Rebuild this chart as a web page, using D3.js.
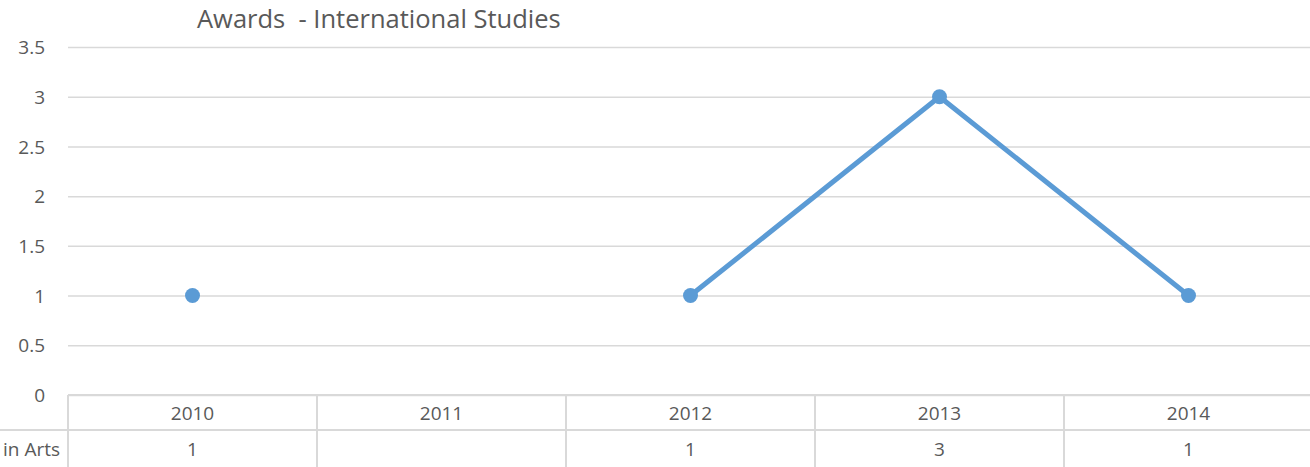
<!DOCTYPE html>
<html><head><meta charset="utf-8">
<script src="https://cdn.jsdelivr.net/npm/d3@7"></script>
<style>body{margin:0;background:#fff;overflow:hidden}svg{display:block}text{white-space:pre}</style>
</head><body>
<svg id="c" width="1310" height="467"></svg>
<script>
const categories = ["2010","2011","2012","2013","2014"];
const values = [1, null, 1, 3, 1];
const yTicks = [0, 0.5, 1, 1.5, 2, 2.5, 3, 3.5];
const seriesName = "in Arts";
const title = "Awards  - International Studies";

const svg = d3.select("#c");
const font = "'Open Sans', 'Noto Sans', sans-serif";
const textCol = "#595959", gridCol = "#D9D9D9", lineCol = "#5B9BD5";

const x = d3.scaleBand().domain(categories).range([68, 1313]);
const y = d3.scaleLinear().domain([0, 3.5]).range([395, 47]);

// gridlines + y tick labels
const yAxis = d3.axisLeft(y).tickValues(yTicks).tickSize(0).tickPadding(0).tickFormat(d3.format("~g"));
const gy = svg.append("g").attr("transform", "translate(68,0)").call(yAxis);
gy.select(".domain").remove();
gy.selectAll("text").attr("x", -23).attr("dy", "0.35em")
  .attr("fill", textCol).style("font-family", font).style("font-size", "19px");
gy.selectAll(".tick").append("line").attr("x1", 0).attr("x2", 1245)
  .attr("stroke", gridCol).attr("stroke-width", 1.5);

// title
svg.append("text").attr("x", 197).attr("y", 28).text(title)
  .attr("fill", textCol).style("font-family", font).style("font-size", "25.5px");

// data table
const tbl = svg.append("g");
tbl.append("line").attr("x1", 68).attr("x2", 1313).attr("y1", y(0)).attr("y2", y(0))
  .attr("stroke", gridCol).attr("stroke-width", 2);
tbl.append("line").attr("x1", 0).attr("x2", 1313).attr("y1", 430).attr("y2", 430)
  .attr("stroke", gridCol).attr("stroke-width", 2);
tbl.selectAll(".vsep").data(categories).enter().append("line")
  .attr("x1", d => x(d)).attr("x2", d => x(d)).attr("y1", y(0)).attr("y2", 467)
  .attr("stroke", gridCol).attr("stroke-width", 2);
tbl.selectAll(".cat").data(categories).enter().append("text")
  .attr("x", d => x(d) + x.bandwidth()/2).attr("y", 420).attr("text-anchor", "middle")
  .text(d => d).attr("fill", textCol).style("font-family", font).style("font-size", "19px");
tbl.selectAll(".val").data(categories).enter().append("text")
  .attr("x", d => x(d) + x.bandwidth()/2).attr("y", 456).attr("text-anchor", "middle")
  .text((d,i) => values[i] == null ? "" : values[i])
  .attr("fill", textCol).style("font-family", font).style("font-size", "19px");
tbl.append("text").attr("x", 60).attr("y", 456).attr("text-anchor", "end").text(seriesName)
  .attr("fill", textCol).style("font-family", font).style("font-size", "19px");

// line
const pts = categories.map((c, i) => ({c, v: values[i]}));
const line = d3.line().defined(d => d.v != null)
  .x(d => x(d.c) + x.bandwidth()/2).y(d => y(d.v));
svg.append("path").datum(pts).attr("d", line).attr("fill", "none")
  .attr("stroke", lineCol).attr("stroke-width", 5).attr("stroke-linejoin", "round").attr("stroke-linecap", "round");
svg.selectAll(".pt").data(pts.filter(d => d.v != null)).enter().append("circle")
  .attr("cx", d => x(d.c) + x.bandwidth()/2).attr("cy", d => y(d.v)).attr("r", 7.5)
  .attr("fill", lineCol);
</script>
</body></html>
